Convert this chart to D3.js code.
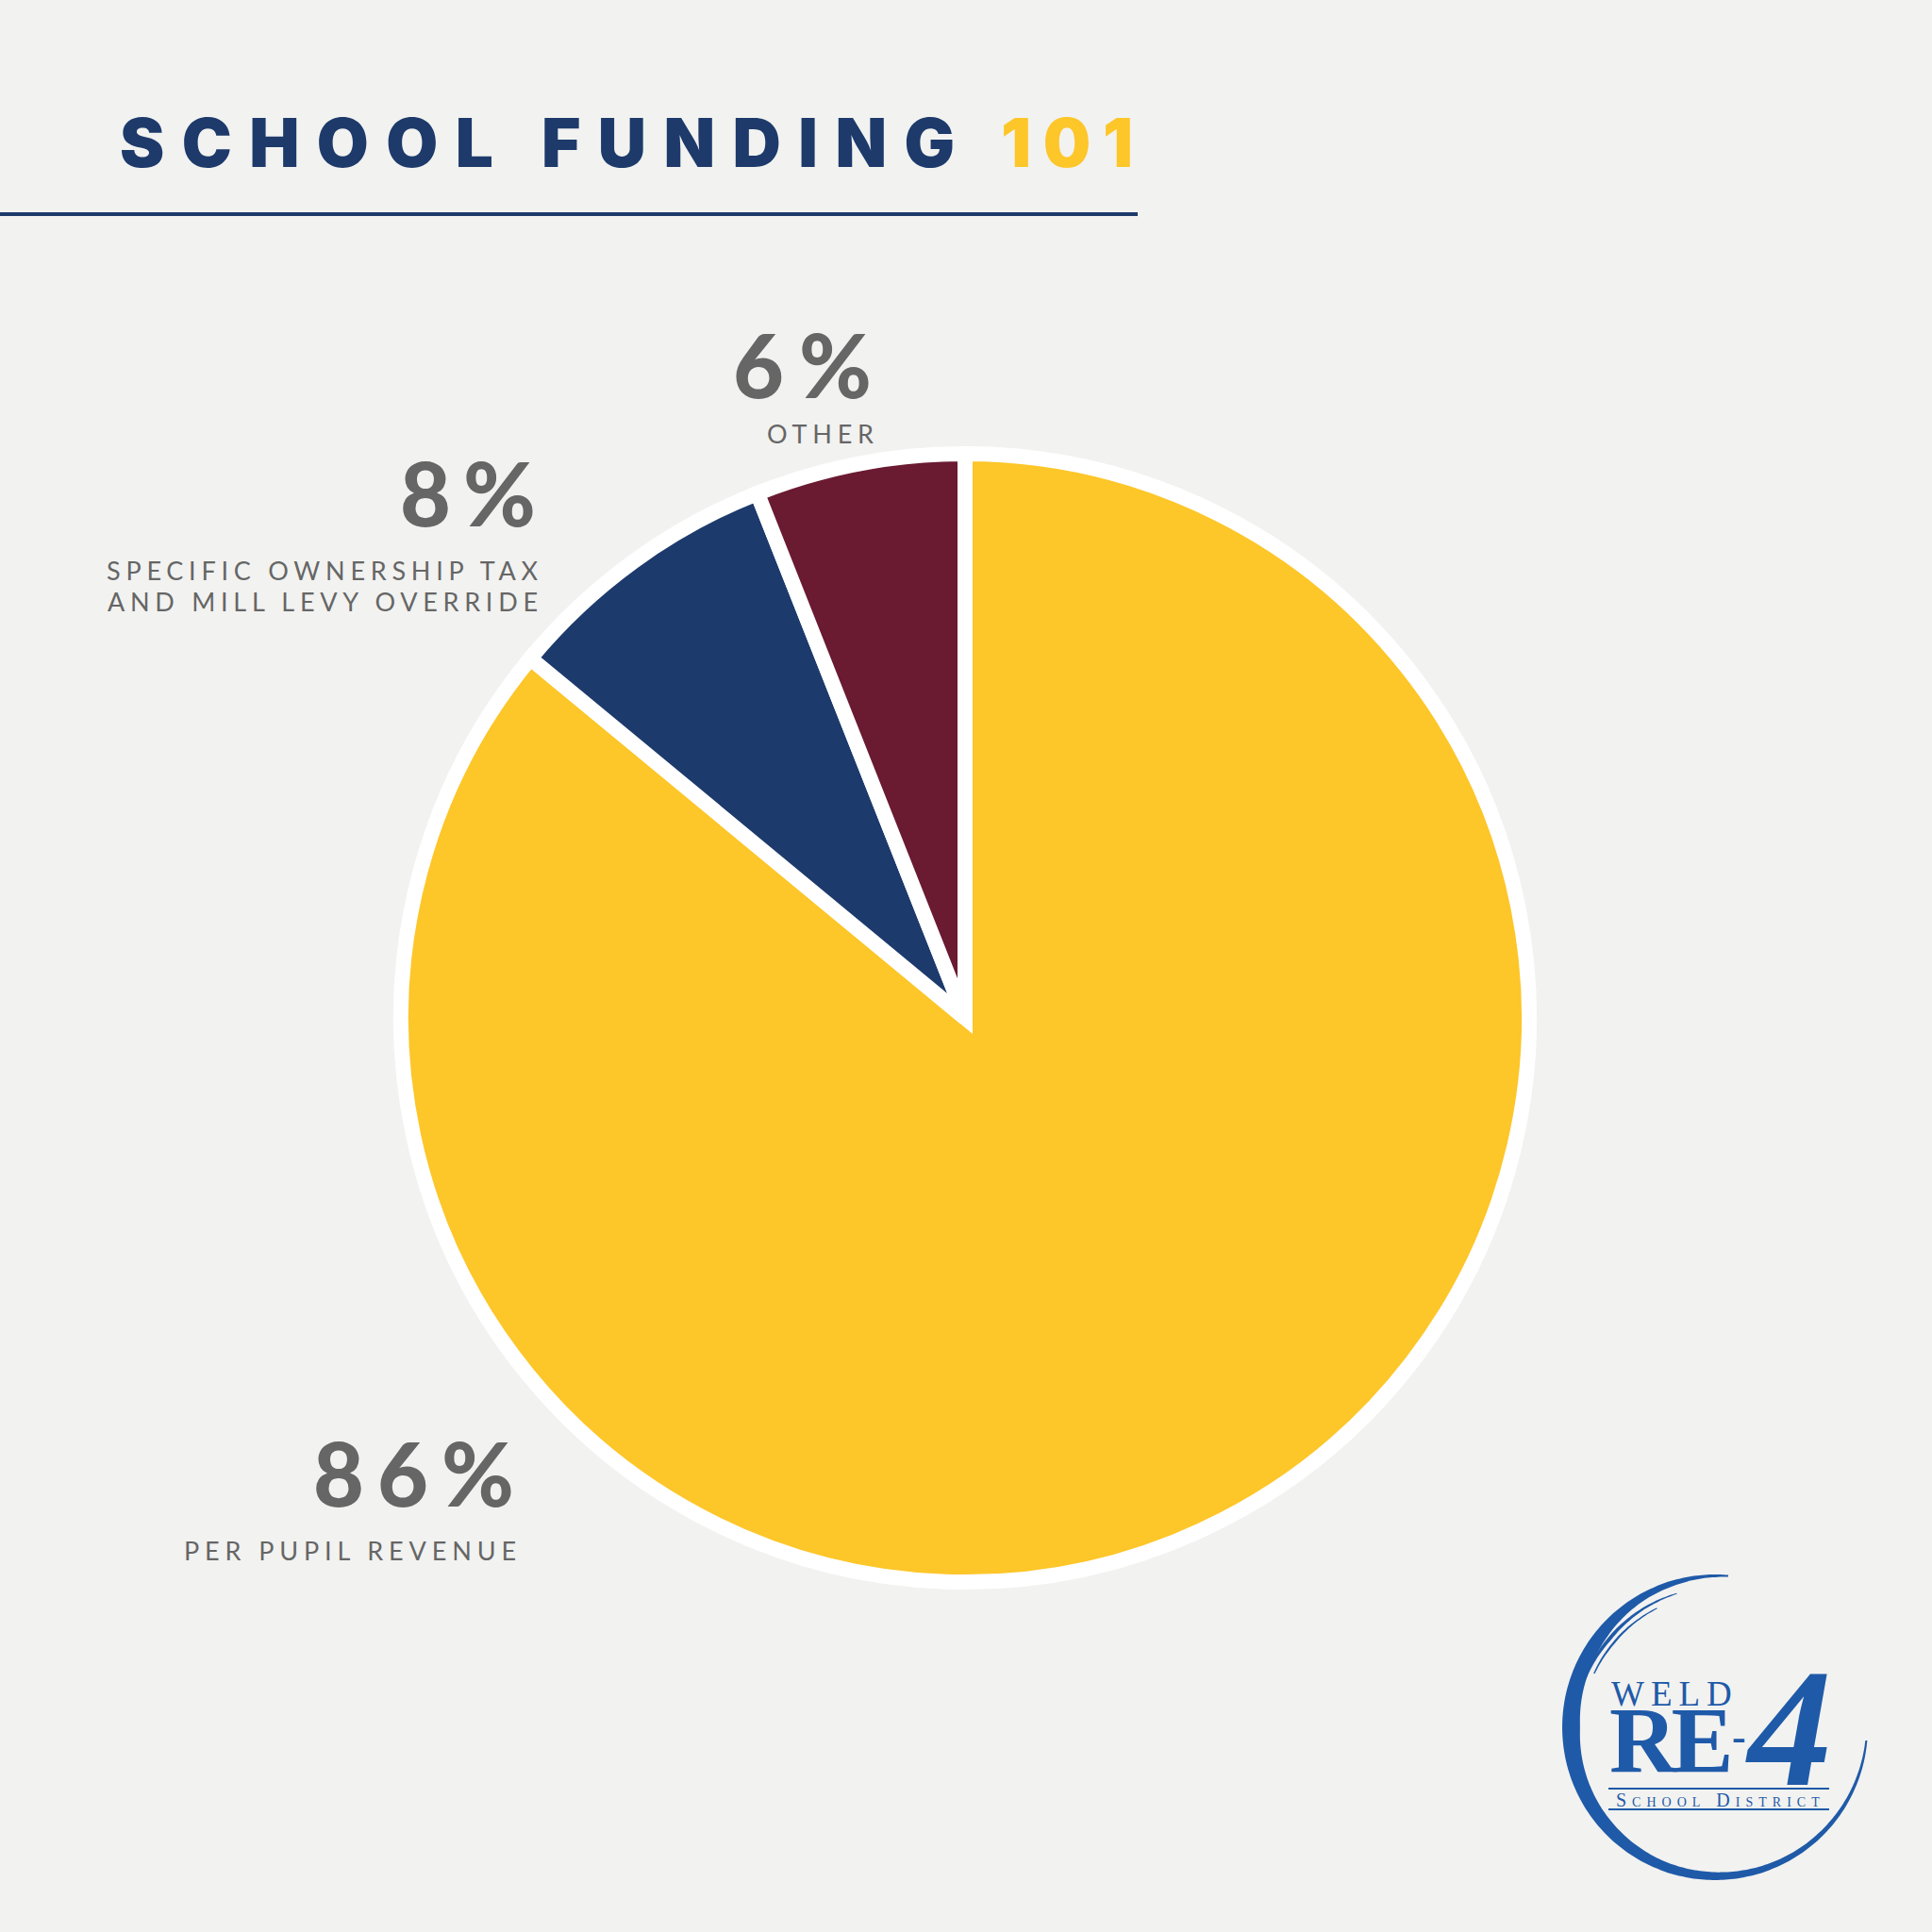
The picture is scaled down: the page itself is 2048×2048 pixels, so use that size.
<!DOCTYPE html>
<html>
<head>
<meta charset="utf-8">
<script src="https://cdn.jsdelivr.net/npm/d3@7"></script>
<style>
  html, body { margin: 0; padding: 0; background: #F2F2F0; }
  svg { display: block; }
</style>
</head>
<body>
<svg width="2048" height="2048"></svg>
<script>

// data
var categories = [["PER PUPIL REVENUE"], ["SPECIFIC OWNERSHIP TAX", "AND MILL LEVY OVERRIDE"], ["OTHER"]];
var shares = [86, 8, 6];
var sliceColors = ["#FDC629", "#1D3A6C", "#6A1A31"];

// where the labels sit (right edge, baselines) and how wide they run
var labelX = [545, 568, 924];
var numberY = [1597, 558, 422];
var lineY = [[1654], [615, 648], [470]];
var numberW = [213, 144, 147];
var lineW = [[352], [457, 456], [113]];

var width = 2048, height = 2048;
var cx = 1023, cy = 1079, radius = 598;
var sans = "Inter, 'Open Sans', sans-serif";

var svg = d3.select("svg");
svg.append("rect").attr("width", width).attr("height", height).attr("fill", "#F2F2F0");

// title
svg.append("text").attr("x", 127).attr("y", 177)
  .attr("font-family", sans).attr("font-weight", 900)
  .attr("font-size", 71).attr("fill", "#1D3A6B")
  .attr("textLength", 885).attr("lengthAdjust", "spacing")
  .text("SCHOOL FUNDING");
svg.append("text").attr("x", 1061).attr("y", 177)
  .attr("font-family", sans).attr("font-weight", 900)
  .attr("font-size", 71).attr("fill", "#FDC629")
  .attr("textLength", 140).attr("lengthAdjust", "spacing")
  .text("101");
svg.append("rect").attr("x", 0).attr("y", 225).attr("width", 1206).attr("height", 4).attr("fill", "#1D3A6B");

// pie
var pie = d3.pie().sort(null).value(d => d);
var arc = d3.arc().innerRadius(0).outerRadius(radius);

var g = svg.append("g").attr("transform", "translate(" + cx + "," + cy + ")");
g.selectAll("path")
  .data(pie(shares))
  .join("path")
  .attr("d", arc)
  .attr("fill", (d, i) => sliceColors[i])
  .attr("stroke", "#fff")
  .attr("stroke-width", 16)
  .attr("stroke-linejoin", "miter");

// labels
var labels = svg.append("g").attr("fill", "#666666").attr("text-anchor", "end");
shares.forEach(function(v, i){
  labels.append("text").attr("x", labelX[i]).attr("y", numberY[i])
    .attr("font-family", "Lato, 'Open Sans', sans-serif").attr("font-weight", 900)
    .attr("font-size", 93)
    .attr("textLength", numberW[i]).attr("lengthAdjust", "spacing")
    .text(v + "%");
  categories[i].forEach(function(line, j){
    labels.append("text").attr("x", labelX[i] + 2).attr("y", lineY[i][j])
      .attr("font-family", "Lato, 'Open Sans', sans-serif").attr("font-weight", 400)
      .attr("font-size", 27)
      .attr("textLength", lineW[i][j]).attr("lengthAdjust", "spacing")
      .text(line);
  });
});

// district logo
var logoColor = "#1F5AA8";
var logo = svg.append("g").attr("transform", "translate(1818,1831)");
var deg = Math.PI / 180;
var thick = d3.scaleLinear()
  .domain([95, 150, 200, 240, 270, 300, 330, 365])
  .range([2, 6, 10, 15, 19, 15, 8, 2]);
var brush = d3.areaRadial()
  .angle(a => a * deg)
  .outerRadius(162)
  .innerRadius(a => 162 - thick(a))
  .curve(d3.curveBasis);
logo.append("path").attr("d", brush(d3.range(95, 366, 2))).attr("fill", logoColor);

var thin = d3.scaleLinear().domain([280, 310, 345]).range([1, 4, 1]);
var brush2 = d3.areaRadial()
  .angle(a => a * deg)
  .outerRadius(148)
  .innerRadius(a => 148 - thin(a))
  .curve(d3.curveBasis);
logo.append("path").attr("d", brush2(d3.range(280, 346, 2))).attr("fill", logoColor);
var brush3 = d3.areaRadial()
  .angle(a => a * deg)
  .outerRadius(141)
  .innerRadius(a => 141 - thin(a) * 0.6)
  .curve(d3.curveBasis);
logo.append("path").attr("d", brush3(d3.range(294, 336, 2))).attr("fill", logoColor);

svg.append("rect").attr("x", 1705).attr("y", 1895).attr("width", 234).attr("height", 2).attr("fill", logoColor);
svg.append("rect").attr("x", 1705).attr("y", 1917).attr("width", 234).attr("height", 2).attr("fill", logoColor);

var serif = "'Liberation Serif', 'DejaVu Serif', serif";
var mark = svg.append("text").attr("font-family", serif).attr("fill", logoColor);
mark.append("tspan").attr("x", 1708).attr("y", 1808)
  .attr("font-size", 37).attr("letter-spacing", 7).text("WELD");
mark.append("tspan").attr("x", 1706).attr("y", 1878)
  .attr("font-size", 99).attr("font-weight", 700).attr("letter-spacing", -6).text("RE");
mark.append("tspan").attr("x", 1836).attr("y", 1856)
  .attr("font-size", 44).attr("font-weight", 700).text("-");
mark.append("tspan").attr("x", 1853).attr("y", 1892)
  .attr("font-size", 178).attr("font-weight", 700).attr("font-style", "italic").text("4");
mark.append("tspan").attr("x", 1713).attr("y", 1915)
  .attr("font-size", 20).attr("font-variant", "small-caps").attr("letter-spacing", 6).text("School District");

</script>
</body>
</html>
